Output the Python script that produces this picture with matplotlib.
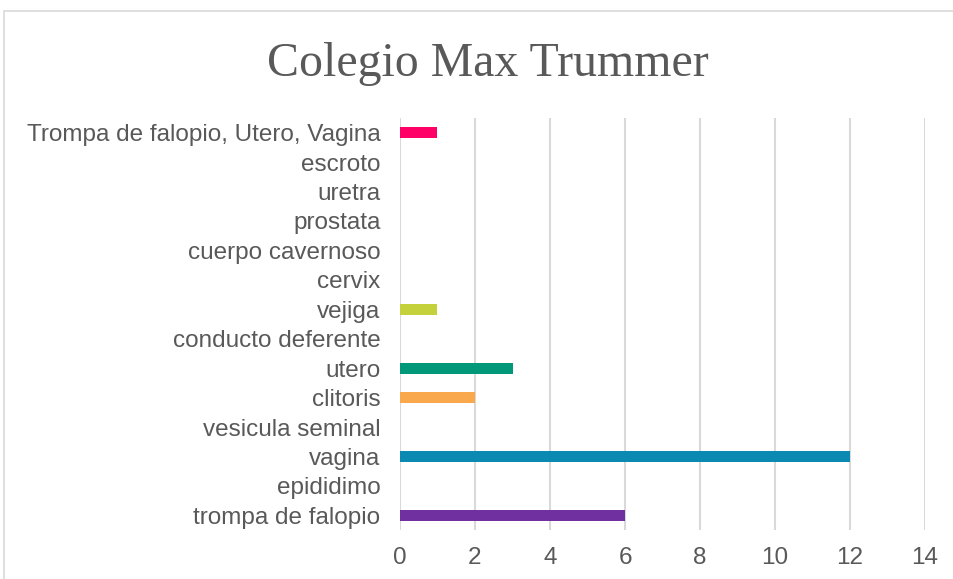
import matplotlib.pyplot as plt
from matplotlib.patches import Rectangle

categories = ["trompa de falopio", "epididimo", "vagina", "vesicula seminal",
              "clitoris", "utero", "conducto deferente", "vejiga", "cervix",
              "cuerpo cavernoso", "prostata", "uretra", "escroto",
              "Trompa de falopio, Utero, Vagina"]
values = [6, 0, 12, 0, 2, 3, 0, 1, 0, 0, 0, 0, 0, 1]
colors = ["#7030A0", "#4472C4", "#0A89B2", "#A5A5A5", "#F9A94B", "#009879",
          "#5B9BD5", "#C4D13B", "#ED7D31", "#70AD47", "#264478", "#9E480E",
          "#636363", "#FF0066"]
x_ticks = [0, 2, 4, 6, 8, 10, 12, 14]

fig = plt.figure(figsize=(9.54, 5.79), dpi=100)
ax = fig.add_axes([400 / 954, 1 - 530 / 579, 525 / 954, 412 / 579])

# chart frame (cut off at right and bottom like the source)
fig.patches.append(Rectangle((4 / 954, -0.1), 1.1, 1 - 11 / 579 + 0.1,
                             transform=fig.transFigure, fill=False,
                             edgecolor="#d9d9d9", linewidth=1.2))

ypos = list(range(len(categories)))
ax.barh(ypos, values, height=0.38, color=colors, zorder=3)

ax.set_xlim(0, 14)
ax.set_ylim(-0.5, len(categories) - 0.5)
ax.set_xticks(x_ticks)
ax.set_yticks(ypos)
ax.set_yticklabels(categories)
ax.tick_params(axis="both", length=0, labelsize=17.5, labelcolor="#595959")
ax.tick_params(axis="y", pad=14)
ax.tick_params(axis="x", pad=12)
ax.grid(axis="x", color="#d9d9d9", linewidth=1.5, zorder=0)
for s in ax.spines.values():
    s.set_visible(False)
for lbl in ax.get_xticklabels() + ax.get_yticklabels():
    lbl.set_fontfamily("Liberation Sans")

fig.text(488 / 954, 1 - 64 / 579, "Colegio Max Trummer", ha="center", va="center",
         fontsize=34.5, color="#595959", family="Liberation Serif")

plt.savefig("out.png", dpi=100)
plt.close()
